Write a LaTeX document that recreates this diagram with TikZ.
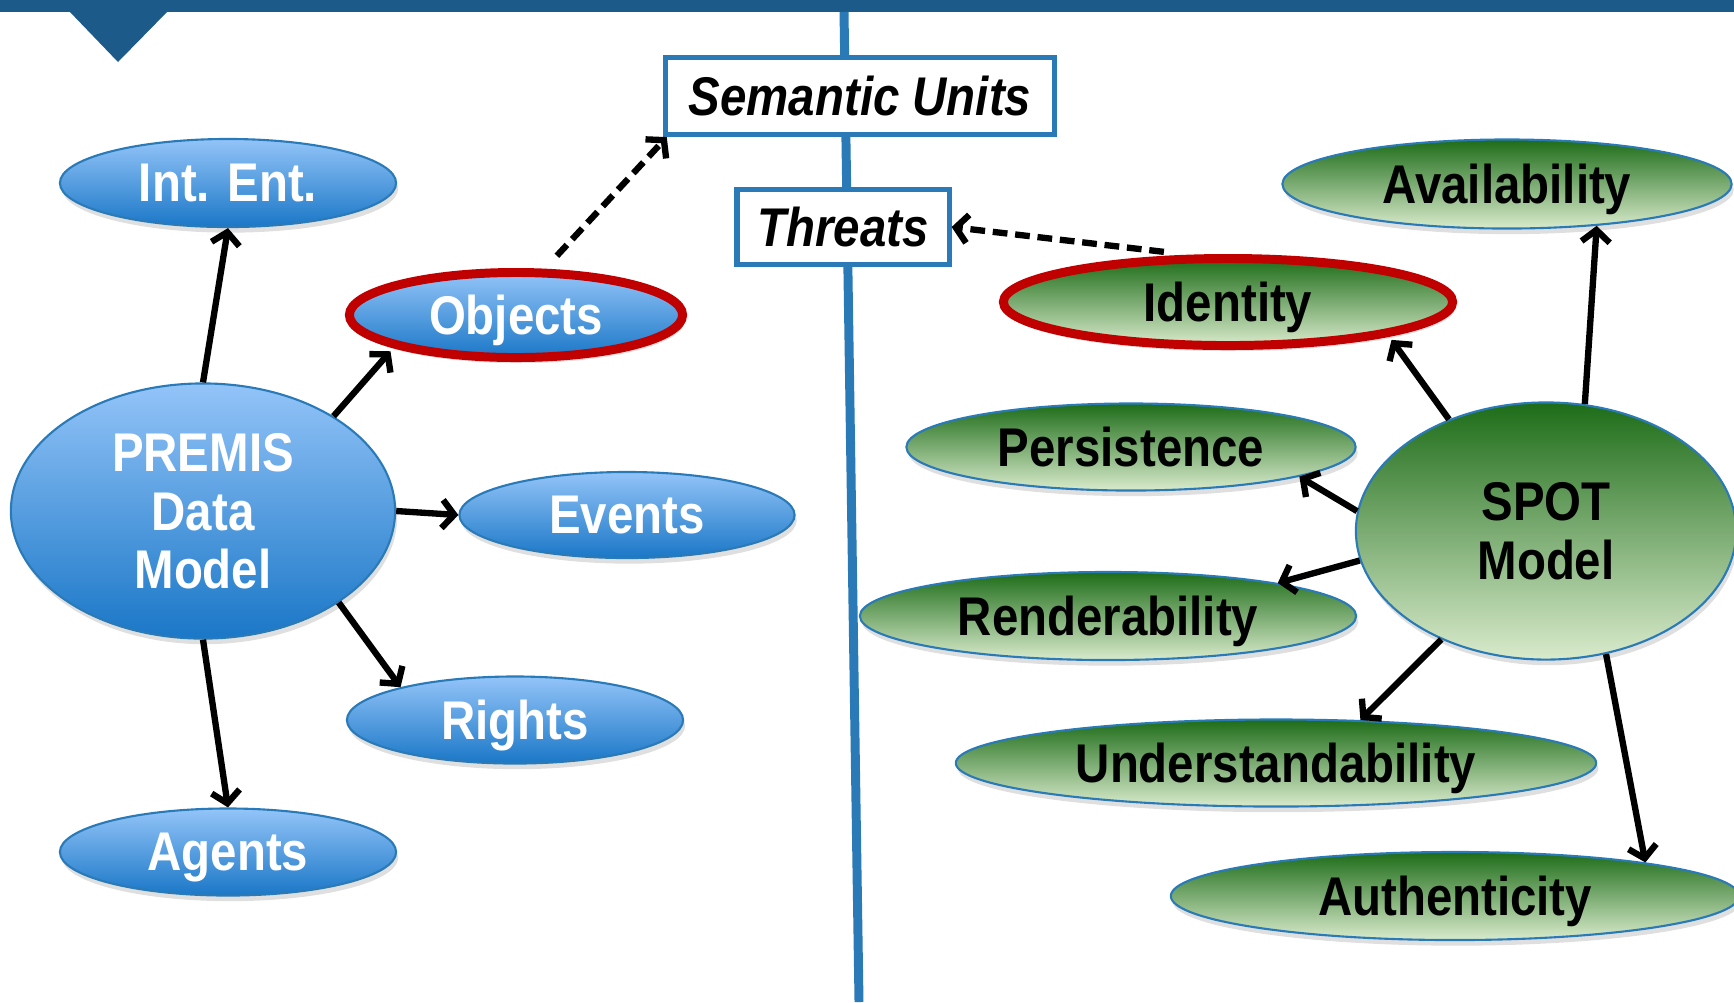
\documentclass[tikz,border=0pt]{standalone}
\usepackage{fontspec}
\setmainfont{Liberation Sans}[FakeStretch=0.87]
\usepackage{xcolor}
\usepackage{tikz}
\usetikzlibrary{arrows.meta,shapes.geometric,shadows}
\definecolor{barblue}{HTML}{1C5A8A}
\definecolor{lineblue}{HTML}{2A7AB8}
\definecolor{blueTop}{HTML}{93C4F8}
\definecolor{blueBot}{HTML}{1A77C7}
\definecolor{greenTop}{HTML}{1D6C18}
\definecolor{greenBot}{HTML}{D9EBCC}
\definecolor{ringred}{HTML}{C00000}

\begin{document}
\begin{tikzpicture}[x=0.01cm, y=-0.01cm,
  oval/.style={ellipse, draw=lineblue, line width=0.6pt, inner sep=0pt, align=center,
    text depth=0pt, font=\fontsize{15.5}{16.6}\selectfont\bfseries,
    drop shadow={opacity=0.25, shadow xshift=0.6pt, shadow yshift=-1.6pt}},
  premisoval/.style={oval, top color=blueTop, bottom color=blueBot, text=white},
  spotoval/.style={oval, top color=greenTop, bottom color=greenBot, text=black},
  ring/.style={draw=ringred, line width=2.55pt},
  unitbox/.style={rectangle, draw=lineblue, line width=1.45pt, fill=white, inner sep=0pt,
    font=\fontsize{15.5}{16.6}\selectfont\bfseries\itshape},
  link/.style={line width=1.8pt, -{Straight Barb[length=3.4pt,width=8pt]}},
  dashlink/.style={link, dash pattern=on 4.2pt off 2.2pt}]
  \useasboundingbox (0,0) rectangle (1734,1002);
  \fill[barblue] (0,0) rectangle (1734,12);
  \fill[barblue] (69,11) -- (168,11) -- (118,62) -- cycle;
  \draw[lineblue, line width=2.55pt] (844,12) -- (859,1002);
  \node[unitbox, minimum width=3.89cm, minimum height=0.77cm] (su) at (860,96) {Semantic Units};
  \node[unitbox, minimum width=2.12cm, minimum height=0.75cm] (threats) at (843,227) {Threats};
  \node[premisoval, minimum width=3.84cm, minimum height=2.55cm] (premis) at (203,511) {PREMIS\\Data\\Model};
  \node[premisoval, minimum width=3.36cm, minimum height=0.88cm] (intent) at (228,183) {Int. Ent.};
  \node[premisoval, ring, minimum width=3.33cm, minimum height=0.85cm] (objects) at (516,315) {Objects};
  \node[premisoval, minimum width=3.35cm, minimum height=0.86cm] (events) at (627,515) {Events};
  \node[premisoval, minimum width=3.36cm, minimum height=0.87cm] (rights) at (515,720) {Rights};
  \node[premisoval, minimum width=3.36cm, minimum height=0.87cm] (agents) at (228,852) {Agents};
  \node[spotoval, minimum width=3.80cm, minimum height=2.57cm] (spot) at (1546,531) {SPOT\\Model};
  \node[spotoval, minimum width=4.49cm, minimum height=0.89cm] (avail) at (1507,184) {Availability};
  \node[spotoval, ring, minimum width=4.49cm, minimum height=0.87cm] (identity) at (1228,302) {Identity};
  \node[spotoval, minimum width=4.49cm, minimum height=0.87cm] (persist) at (1131,447) {Persistence};
  \node[spotoval, minimum width=4.96cm, minimum height=0.88cm] (render) at (1108,616) {Renderability};
  \node[spotoval, minimum width=6.40cm, minimum height=0.87cm] (underst) at (1276,763) {Understandability};
  \node[spotoval, minimum width=5.68cm, minimum height=0.88cm] (authent) at (1455,896) {Authenticity};
  \draw[link] (premis.north) -- (intent.south);
  \draw[link, shorten >=1.3pt] (premis.36) -- (objects.195);
  \draw[link] (premis.east) -- (events.west);
  \draw[link] (premis.-34) -- (rights.164);
  \draw[link] (premis.south) -- (agents.north);
  \draw[link, shorten >=1.3pt] (spot.131) -- (identity.-12);
  \draw[link] (spot.174) -- (persist.-10);
  \draw[link] (spot.189) -- (render.11);
  \draw[link] (spot.226) -- (underst.27);
  \draw[link] (spot.73) -- (avail.-25);
  \draw[link] (spot.-64) -- (authent.10);
  \draw[dashlink, shorten <=5pt] (objects.58) -- (su.192);
  \draw[dashlink, shorten <=7pt] (identity.130) -- (threats.east);
\end{tikzpicture}
\end{document}
